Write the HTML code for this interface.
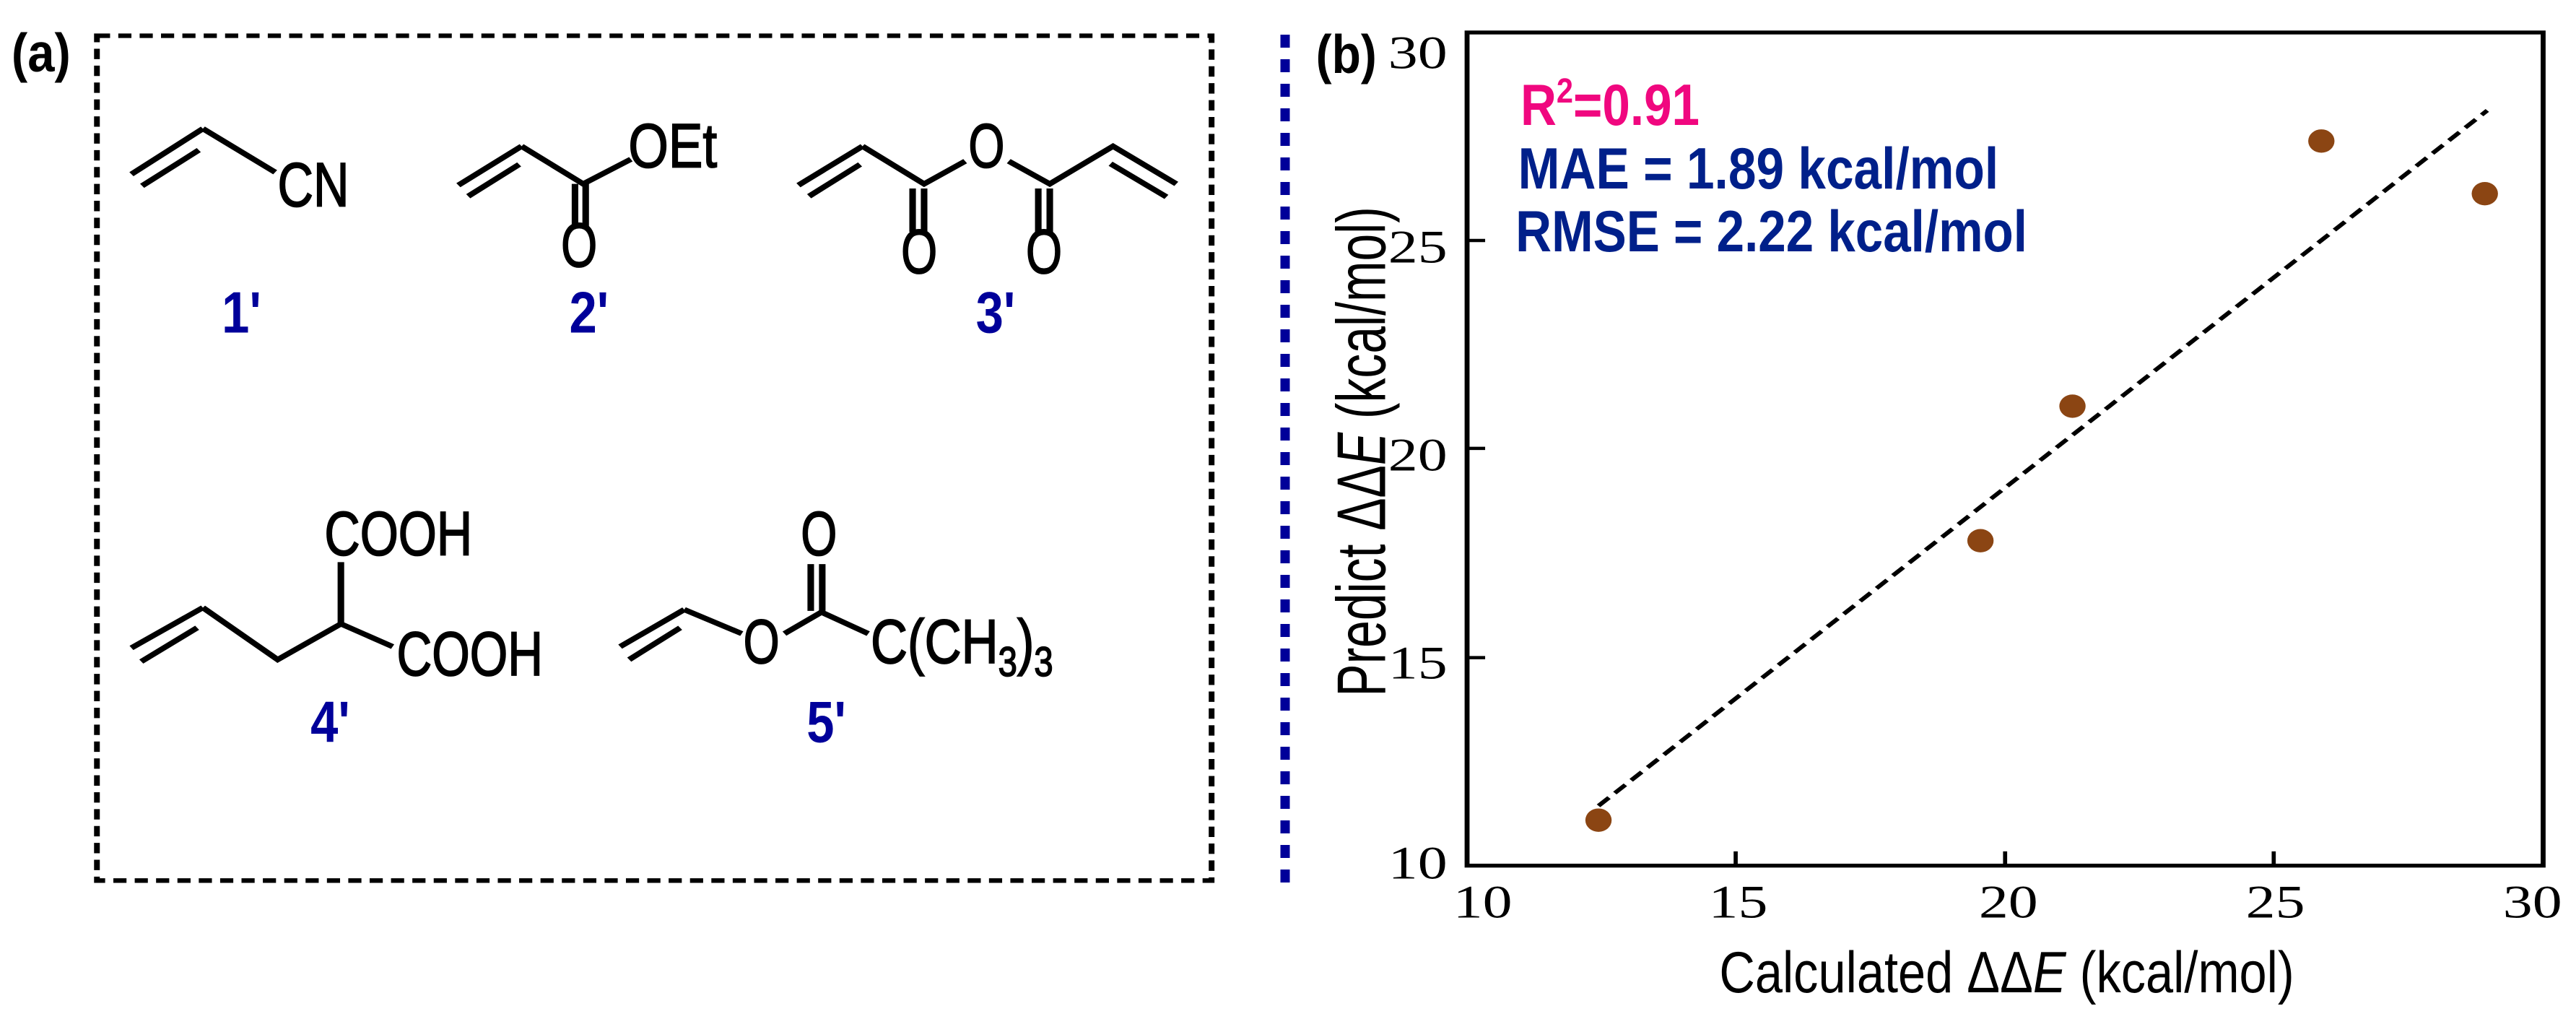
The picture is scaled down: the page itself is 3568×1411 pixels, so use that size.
<!DOCTYPE html>
<html><head><meta charset="utf-8"><style>
html,body{margin:0;padding:0;background:#fff;width:3568px;height:1411px;overflow:hidden}
svg{position:absolute;top:0}
.m{font-family:"Liberation Sans",Arial,sans-serif;font-size:96px;fill:#000;stroke:#000;stroke-width:2}
.lb{font-family:"Liberation Sans",Arial,sans-serif;font-weight:bold;font-size:90px;fill:#00009a}
.t{font-family:"Liberation Serif","Times New Roman",serif;font-size:72px;fill:#000}
</style></head><body>
<svg style="left:0" width="1784" height="1411" viewBox="0 0 1568 1568" preserveAspectRatio="none">
<text x="14" y="110" font-family="Liberation Sans,sans-serif" font-weight="bold" font-size="84" textLength="72" lengthAdjust="spacingAndGlyphs">(a)</text>
<rect x="118" y="55" width="1357" height="1300" fill="none" stroke="#000" stroke-width="7" stroke-dasharray="16 10"/>
<g stroke="#000" stroke-width="8" fill="none" stroke-linecap="butt">
<path d="M160 268L247 198M173 286L242 231M247 198L335 265"/>
<path d="M558 285L635 225M570 302L632 253M635 225L710 283L768 245M700 283V350M713 283V350"/>
<path d="M972 285L1050 225M985 302L1047 253M1050 225L1125 283L1175 248M1228 248L1278 283L1355 225L1432 283M1352 252L1420 303M1111 290V357M1125 290V357M1264 290V357M1278 290V357"/>
<path d="M160 997L247 935M172 1018L240 966M247 935L338 1015L415 960V865M415 960L478 995"/>
<path d="M755 995L833 938M766 1015L828 966M833 938L903 975M955 975L1000 942L1057 975M987 940V868M1001 940V868"/>
</g>
<g class="m">
<text x="338" y="317" textLength="87" lengthAdjust="spacingAndGlyphs">CN</text>
<text x="765" y="257" textLength="108" lengthAdjust="spacingAndGlyphs">OEt</text>
<text x="683" y="410" textLength="44" lengthAdjust="spacingAndGlyphs">O</text>
<text x="1179" y="257" textLength="44" lengthAdjust="spacingAndGlyphs">O</text>
<text x="1097" y="420" textLength="44" lengthAdjust="spacingAndGlyphs">O</text>
<text x="1249" y="420" textLength="44" lengthAdjust="spacingAndGlyphs">O</text>
<text x="395" y="854" textLength="180" lengthAdjust="spacingAndGlyphs">COOH</text>
<text x="483" y="1039" textLength="178" lengthAdjust="spacingAndGlyphs">COOH</text>
<text x="905" y="1020" textLength="44" lengthAdjust="spacingAndGlyphs">O</text>
<text x="975" y="854" textLength="44" lengthAdjust="spacingAndGlyphs">O</text>
<text x="1060" y="1020" textLength="222" lengthAdjust="spacingAndGlyphs">C(CH<tspan font-size="64" dy="20">3</tspan><tspan dy="-20">)</tspan><tspan font-size="64" dy="20">3</tspan></text>
</g>
<g class="lb">
<text x="270" y="512" textLength="48" lengthAdjust="spacingAndGlyphs">1'</text>
<text x="693" y="512" textLength="48" lengthAdjust="spacingAndGlyphs">2'</text>
<text x="1188" y="512" textLength="48" lengthAdjust="spacingAndGlyphs">3'</text>
<text x="378" y="1142" textLength="48" lengthAdjust="spacingAndGlyphs">4'</text>
<text x="982" y="1142" textLength="48" lengthAdjust="spacingAndGlyphs">5'</text>
</g>
</svg>
<svg style="left:0" width="3568" height="1411"><line x1="1780" y1="48" x2="1780" y2="1236" stroke="#000099" stroke-width="13" stroke-dasharray="18 16"/></svg>
<svg style="left:1784px" width="1784" height="1411" viewBox="0 0 1568 1568" preserveAspectRatio="none">
<text x="34" y="112" font-family="Liberation Sans,sans-serif" font-weight="bold" font-size="84" textLength="74" lengthAdjust="spacingAndGlyphs">(b)</text>
<rect x="218" y="50" width="1310" height="1282" fill="none" stroke="#000" stroke-width="6"/>
<g stroke="#000" stroke-width="5">
<path d="M218 370h22M218 690h22M218 1012h22M545 1332v-22M873 1332v-22M1200 1332v-22"/>
</g>
<g class="t" text-anchor="end">
<text x="194" y="105">30</text><text x="194" y="404">25</text><text x="194" y="724">20</text><text x="194" y="1044">15</text><text x="194" y="1352">10</text>
</g>
<g class="t" text-anchor="middle">
<text x="237" y="1412">10</text><text x="548" y="1412">15</text><text x="877" y="1412">20</text><text x="1202" y="1412">25</text><text x="1515" y="1412">30</text>
</g>
<text x="525" y="1527" font-family="Liberation Sans,sans-serif" font-size="90" textLength="700" lengthAdjust="spacingAndGlyphs">Calculated ΔΔ<tspan font-style="italic">E</tspan> (kcal/mol)</text>
<text transform="translate(118 1072) rotate(-90)" font-family="Liberation Sans,sans-serif" font-size="84" textLength="754" lengthAdjust="spacingAndGlyphs">Predict ΔΔ<tspan font-style="italic">E</tspan> (kcal/mol)</text>
<line x1="378" y1="1240" x2="1460" y2="170" stroke="#000" stroke-width="6" stroke-dasharray="18 10"/>
<g fill="#8b4513">
<ellipse cx="378" cy="1262" rx="16" ry="18"/><ellipse cx="843" cy="832" rx="16" ry="18"/><ellipse cx="955" cy="625" rx="16" ry="18"/><ellipse cx="1258" cy="217" rx="16" ry="18"/><ellipse cx="1457" cy="298" rx="16" ry="18"/>
</g>
<g font-family="Liberation Sans,sans-serif" font-weight="bold" font-size="90">
<text x="283" y="192" fill="#f0077f" textLength="218" lengthAdjust="spacingAndGlyphs">R<tspan font-size="54" dy="-34">2</tspan><tspan dy="34">=0.91</tspan></text>
<text x="280" y="290" fill="#00208a" textLength="585" lengthAdjust="spacingAndGlyphs">MAE = 1.89 kcal/mol</text>
<text x="277" y="387" fill="#00208a" textLength="623" lengthAdjust="spacingAndGlyphs">RMSE = 2.22 kcal/mol</text>
</g>
</svg>
</body></html>
